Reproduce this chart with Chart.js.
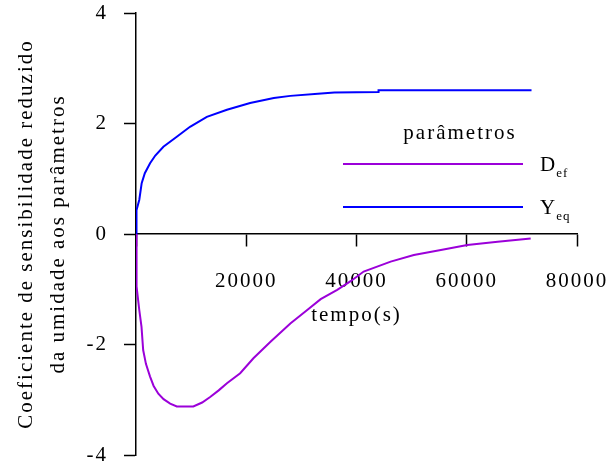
<!DOCTYPE html>
<html>
<head>
<meta charset="utf-8">
<script src="https://cdn.jsdelivr.net/npm/chart.js@4"></script>
<style>
  body { margin: 0; background: #fff; }
</style>
</head>
<body>
<canvas id="sensChart" width="608" height="468"></canvas>
<script>
// tempo (s) e coeficientes
const timeDef = [0, 50, 150, 600, 1000, 1300, 1800, 2550, 3200, 4050, 5000, 6200, 7400, 10400, 12000, 13450, 15000, 16500, 18900, 21300, 24400, 28000, 31000, 33500, 36500, 39000, 41300, 43500, 46200, 50400, 55300, 60100, 65600, 71600]
const valDef = [0, -0.5, -0.95, -1.38, -1.68, -2.1, -2.35, -2.58, -2.75, -2.89, -2.99, -3.07, -3.12, -3.12, -3.05, -2.95, -2.83, -2.7, -2.52, -2.25, -1.95, -1.62, -1.38, -1.18, -1.01, -0.85, -0.68, -0.6, -0.5, -0.38, -0.29, -0.2, -0.14, -0.08]

const timeYeq = [0, 50, 130, 600, 1030, 1600, 2550, 3500, 4970, 7400, 9800, 12850, 16500, 20700, 25000, 28000, 33000, 36000, 44000, 44000, 71750]
const valYeq = [0, 0.13, 0.43, 0.62, 0.92, 1.1, 1.28, 1.42, 1.58, 1.76, 1.94, 2.12, 2.25, 2.37, 2.46, 2.5, 2.54, 2.56, 2.57, 2.6, 2.6]

const seriesMain = ["D", "Y"]
const seriesSub = ["ef", "eq"]
const seriesColors = ["#9b00d9", "#0000ff"]

const xTicks = [0, 20000, 40000, 60000, 80000]
const yTicks = [-4, -2, 0, 2, 4]

function toPoints(xs, ys) {
	return xs.map((x, i) => ({ x: x, y: ys[i] }))
}

const serif = "'Liberation Serif', 'Times New Roman', serif"
const spacing = "2px"

function noPadding(scale) {
	scale.paddingLeft = 0
	scale.paddingRight = 0
	scale.paddingTop = 0
	scale.paddingBottom = 0
}

// legenda desenhada a mao por causa dos subscritos
const legendPlugin = {
	id: "paramLegend",
	beforeDraw(chart) {
		chart.ctx.letterSpacing = spacing
	},
	afterDraw(chart) {
		const ctx = chart.ctx
		const area = chart.chartArea
		ctx.save()
		ctx.letterSpacing = spacing
		ctx.fillStyle = "#000"
		ctx.textBaseline = "alphabetic"
		ctx.textAlign = "center"
		ctx.font = "21px " + serif
		ctx.fillText("parâmetros", area.left + 324, area.top + 126)
		chart.data.datasets.forEach((ds, i) => {
			const y = area.top + 151 + i * 43
			ctx.strokeStyle = ds.borderColor
			ctx.lineWidth = 2
			ctx.beginPath()
			ctx.moveTo(area.left + 207, y)
			ctx.lineTo(area.left + 387, y)
			ctx.stroke()
			ctx.textAlign = "left"
			ctx.font = "21px " + serif
			ctx.fillText(seriesMain[i], area.left + 404, y + 7)
			const w = ctx.measureText(seriesMain[i]).width
			ctx.letterSpacing = "1px"
			ctx.font = "13px " + serif
			ctx.fillText(seriesSub[i], area.left + 403 + w, y + 13)
			ctx.letterSpacing = spacing
		})
		ctx.restore()
	}
}

new Chart(document.getElementById("sensChart"), {
	type: "line",
	data: {
		datasets: [
			{
				label: "Def",
				data: toPoints(timeDef, valDef),
				borderColor: seriesColors[0],
				borderWidth: 2,
				pointRadius: 0,
				tension: 0,
				fill: false,
			},
			{
				label: "Yeq",
				data: toPoints(timeYeq, valYeq),
				borderColor: seriesColors[1],
				borderWidth: 2,
				pointRadius: 0,
				tension: 0,
				fill: false,
			},
		],
	},
	options: {
		responsive: false,
		animation: false,
		layout: { padding: { left: 0, top: 13, right: 31, bottom: 13 } },
		plugins: {
			legend: { display: false },
			tooltip: { enabled: false },
		},
		scales: {
			x: {
				type: "linear",
				position: { y: 0 },
				min: 0,
				max: 80000,
				afterBuildTicks: (scale) => { scale.ticks = xTicks.map(v => ({ value: v })) },
				afterFit: noPadding,
				grid: { drawOnChartArea: false, tickLength: 12, tickColor: "#000", tickWidth: 1.5 },
				border: { color: "#000", width: 1.5 },
				ticks: {
					color: "#000",
					padding: 23,
					maxRotation: 0,
					autoSkip: false,
					font: { family: serif, size: 21 },
					callback: (v) => v === 0 ? "" : String(v),
				},
				title: {
					display: true,
					text: "tempo(s)",
					color: "#000",
					font: { family: serif, size: 21 },
					padding: { top: -14, bottom: 0 },
				},
			},
			y: {
				min: -4,
				max: 4,
				afterBuildTicks: (scale) => { scale.ticks = yTicks.map(v => ({ value: v })) },
				afterFit: (scale) => {
					scale.width = 136
					noPadding(scale)
				},
				grid: { drawOnChartArea: false, tickLength: 12, tickColor: "#000", tickWidth: 1.5 },
				border: { color: "#000", width: 1.5 },
				ticks: {
					color: "#000",
					padding: 16,
					font: { family: serif, size: 21 },
				},
				title: {
					display: true,
					text: ["Coeficiente de sensibilidade reduzido", "da umidade aos parâmetros"],
					color: "#000",
					font: { family: serif, size: 21, lineHeight: 1.5 },
					padding: { top: 11, bottom: 0 },
				},
			},
		},
	},
	plugins: [legendPlugin],
})
</script>
</body>
</html>
